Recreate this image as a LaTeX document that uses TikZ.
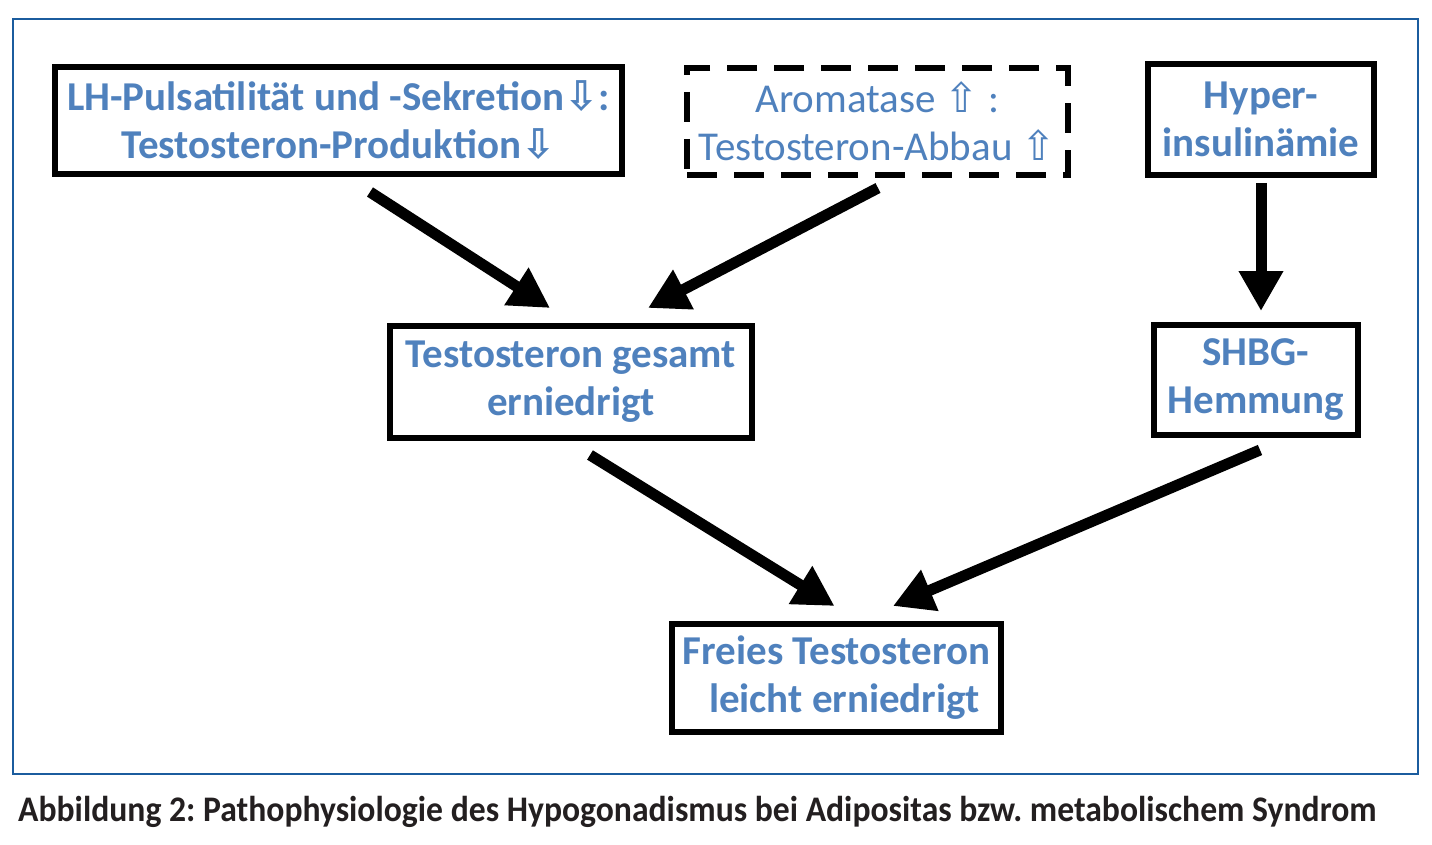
\documentclass[tikz,border=0pt]{standalone}
\usepackage{fontspec}
\setmainfont{Carlito}
\newfontfamily\symfont{DejaVu Sans}
\usetikzlibrary{arrows.meta,calc}
\definecolor{txtblue}{HTML}{4F81BD}
\definecolor{frameblue}{HTML}{1B5C9E}
\definecolor{captxt}{HTML}{231F20}
\newcommand{\dnarr}{{\symfont\bfseries ⇩}}
\newcommand{\uparr}{{\symfont ⇧}}
\frenchspacing
\begin{document}
\begin{tikzpicture}[x=1pt,y=-1pt,
  box/.style={draw=black,line width=6pt,inner sep=0pt,text=txtblue,
    font=\fontsize{41}{48}\selectfont\bfseries,align=center},
  dbox/.style={box,font=\fontsize{41}{48}\selectfont,dash pattern=on 30pt off 17pt},
  arr/.style={line width=11pt,-{Triangle[length=40pt,width=42pt]}}]
\useasboundingbox (0,0) rectangle (1432,845);
\fill[white] (0,0) rectangle (1432,845);
\draw[frameblue,line width=2pt] (13,19) rectangle (1418,774);
\node[box,minimum width=567pt,minimum height=107pt] (lh) at (338.5,120.5)
  {LH-Pulsatilität und -Sekretion\dnarr:\\Testosteron-Produktion\dnarr};
\node[dbox,minimum width=381pt,minimum height=107pt] (aro) at (877.5,121.5)
  {Aromatase \uparr{} :\\Testosteron-Abbau \uparr};
\node[box,minimum width=226pt,minimum height=111pt] (hyp) at (1261,119.5)
  {Hyper-\\insulinämie};
\node[box,minimum width=362pt,minimum height=112pt] (tot) at (571,382)
  {Testosteron gesamt\\erniedrigt};
\node[box,minimum width=204pt,minimum height=110pt] (shbg) at (1256,380)
  {SHBG-\\Hemmung};
\node[box,minimum width=329pt,minimum height=108pt] (fr) at (836.5,678)
  {Freies Testosteron\\\hspace*{16pt}leicht erniedrigt};
\path (lh.south) ++(31.5,15) coordinate (a1s);
\path (tot.north) ++(-21,-15) coordinate (a1e);
\path (aro.south) ++(0.5,10) coordinate (a2s);
\path (tot.north) ++(77,-15) coordinate (a2e);
\path (hyp.south) ++(0,5) coordinate (a3s);
\path (shbg.north) ++(5,-11) coordinate (a3e);
\path (tot.south) ++(19,14) coordinate (a4s);
\path (fr.north) ++(-2,-15) coordinate (a4e);
\path (shbg.south) ++(4,12) coordinate (a5s);
\path (fr.north) ++(56.5,-15) coordinate (a5e);
\draw[arr] (a1s) -- (a1e);
\draw[arr] (a2s) -- (a2e);
\draw[arr] (a3s) -- (a3e);
\draw[arr] (a4s) -- (a4e);
\draw[arr] (a5s) -- (a5e);
\node[anchor=base west,inner sep=0pt,text=captxt,font=\fontsize{36}{40}\selectfont\bfseries] (cap) at (18,821)
  {\scalebox{0.935}[1]{Abbildung 2: Pathophysiologie des Hypogonadismus bei Adipositas bzw. metabolischem Syndrom}};
\end{tikzpicture}
\end{document}
